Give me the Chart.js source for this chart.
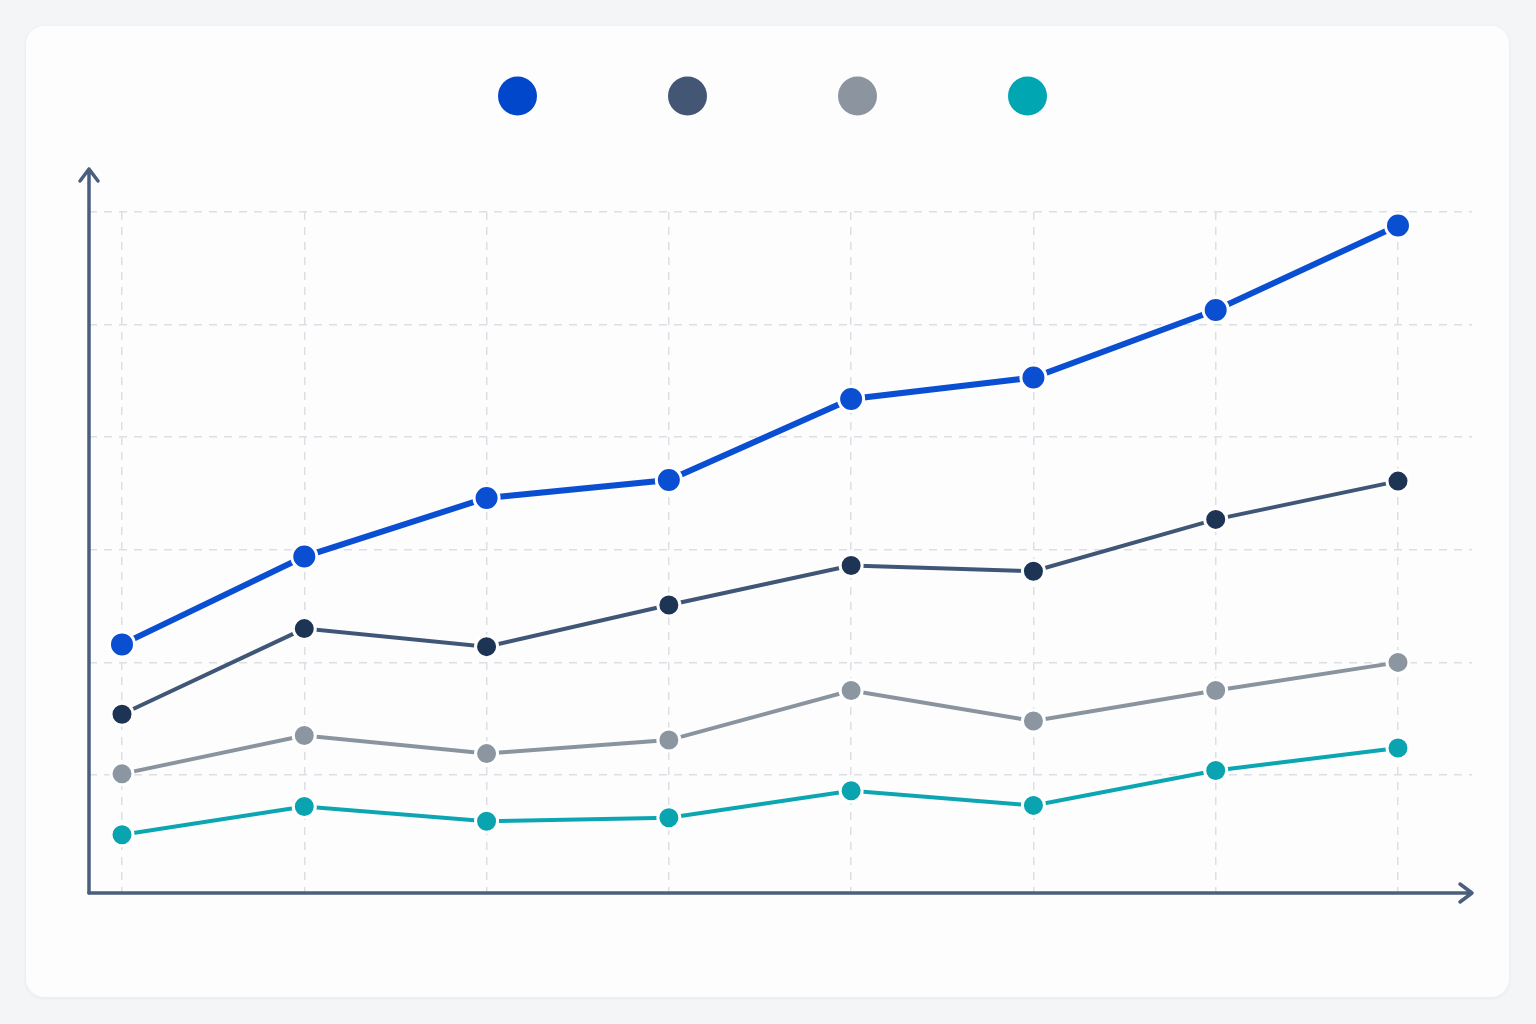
<!DOCTYPE html>
<html lang="en">
<head>
  <meta charset="UTF-8">
  <title>Four series line chart</title>
  <script src="https://cdn.jsdelivr.net/npm/chart.js"></script>
  <style>
      html, body {
          margin: 0;
          padding: 0;
          background: #f4f5f7;
      }
      #card {
          position: absolute;
          left: 26px;
          top: 26px;
          width: 1483px;
          height: 971px;
          background: #fdfdfe;
          border-radius: 18px;
          box-shadow: 0 1px 4px rgba(30, 40, 60, 0.06);
      }
      #chart-container {
          position: absolute;
          left: 0; top: 0;
          width: 1483px;
          height: 971px;
      }
  </style>
</head>
<body>
  <div id="card">
    <div id="chart-container">
      <canvas id="lineChart"></canvas>
    </div>
  </div>

  <script>
      // categories (no labels shown in the picture)
      var periods = ['P1', 'P2', 'P3', 'P4', 'P5', 'P6', 'P7', 'P8'];

      // series values
      var seriesA = [21.6, 29.4, 34.6, 36.2, 43.4, 45.3, 51.3, 58.8];
      var seriesB = [15.4, 23.0, 21.4, 25.1, 28.6, 28.1, 32.7, 36.1];
      var seriesC = [10.1, 13.5, 11.9, 13.1, 17.5, 14.8, 17.5, 20.0];
      var seriesD = [4.7, 7.2, 5.9, 6.2, 8.6, 7.3, 10.4, 12.4];

      var yTicks = [10, 20, 30, 40, 50, 60];

      var axisColor = '#4a5f7e';
      var gridColor = '#dcdfe5';

      function toPoints(values) {
          return values.map((v, i) => ({ x: i, y: v }));
      }

      // axes with arrow heads, drawn on top of the grid
      Chart.register({
          id: 'arrowAxes',
          beforeDatasetsDraw: (chart) => {
              const { ctx, chartArea: { left, right, top, bottom } } = chart;
              ctx.save();
              ctx.strokeStyle = axisColor;
              ctx.lineWidth = 3.5;
              ctx.lineCap = 'round';
              ctx.lineJoin = 'round';
              const y0 = bottom;
              const yTop = top - 43;
              ctx.beginPath();
              ctx.moveTo(left, y0);
              ctx.lineTo(left, yTop);
              ctx.moveTo(left - 9, yTop + 12);
              ctx.lineTo(left, yTop);
              ctx.lineTo(left + 9, yTop + 12);
              ctx.stroke();
              ctx.beginPath();
              ctx.moveTo(left, y0);
              ctx.lineTo(right, y0);
              ctx.moveTo(right - 12, y0 - 9);
              ctx.lineTo(right, y0);
              ctx.lineTo(right - 12, y0 + 9);
              ctx.stroke();
              ctx.restore();
          }
      });

      // legend: coloured dots only, no text
      Chart.register({
          id: 'dotLegend',
          afterDraw: (chart) => {
              const { ctx } = chart;
              const colors = chart.data.datasets.map(d => d.legendColor);
              const gap = 170;
              const cx = chart.width / 2 + 5 - gap * (colors.length - 1) / 2;
              ctx.save();
              colors.forEach((c, i) => {
                  ctx.beginPath();
                  ctx.arc(cx + i * gap, 70, 19.5, 0, Math.PI * 2);
                  ctx.fillStyle = c;
                  ctx.fill();
              });
              ctx.restore();
          }
      });

      var ctx = document.getElementById('lineChart').getContext('2d');

      var chart = new Chart(ctx, {
          type: 'line',
          data: {
              datasets: [
                  {
                      label: 'Series A',
                      data: toPoints(seriesA),
                      borderColor: '#0a4fd2',
                      backgroundColor: '#0a4fd2',
                      legendColor: '#0047cc',
                      borderWidth: 6,
                      pointRadius: 12.5,
                      pointBackgroundColor: '#0a4fd2',
                      pointBorderColor: '#ffffff',
                      pointBorderWidth: 3
                  },
                  {
                      label: 'Series B',
                      data: toPoints(seriesB),
                      borderColor: '#3f5676',
                      backgroundColor: '#1d3454',
                      legendColor: '#435673',
                      borderWidth: 4,
                      pointRadius: 11,
                      pointBackgroundColor: '#1d3454',
                      pointBorderColor: '#ffffff',
                      pointBorderWidth: 3
                  },
                  {
                      label: 'Series C',
                      data: toPoints(seriesC),
                      borderColor: '#8a949f',
                      backgroundColor: '#8c96a1',
                      legendColor: '#8c959f',
                      borderWidth: 4,
                      pointRadius: 11,
                      pointBackgroundColor: '#8c96a1',
                      pointBorderColor: '#ffffff',
                      pointBorderWidth: 3
                  },
                  {
                      label: 'Series D',
                      data: toPoints(seriesD),
                      borderColor: '#0ca6b3',
                      backgroundColor: '#0aa3b0',
                      legendColor: '#00a6b2',
                      borderWidth: 4,
                      pointRadius: 11,
                      pointBackgroundColor: '#0aa3b0',
                      pointBorderColor: '#ffffff',
                      pointBorderWidth: 3
                  }
              ]
          },
          options: {
              responsive: true,
              maintainAspectRatio: false,
              animation: false,
              layout: {
                  padding: { left: 63, top: 186, right: 37, bottom: 104 }
              },
              scales: {
                  x: {
                      type: 'linear',
                      min: -0.181,
                      max: 7.406,
                      afterBuildTicks: (scale) => {
                          scale.ticks = periods.map((_, i) => ({ value: i }));
                      },
                      ticks: { display: false },
                      border: { display: false, dash: [8, 7] },
                      grid: {
                          color: gridColor,
                          lineWidth: 1.5,
                          drawTicks: false
                      }
                  },
                  y: {
                      min: -0.48,
                      max: 60,
                      afterBuildTicks: (scale) => {
                          scale.ticks = yTicks.map(v => ({ value: v }));
                      },
                      ticks: { display: false },
                      border: { display: false, dash: [8, 7] },
                      grid: {
                          color: gridColor,
                          lineWidth: 1.5,
                          drawTicks: false
                      }
                  }
              },
              plugins: {
                  legend: { display: false },
                  tooltip: { enabled: false }
              }
          }
      });
  </script>
</body>
</html>
